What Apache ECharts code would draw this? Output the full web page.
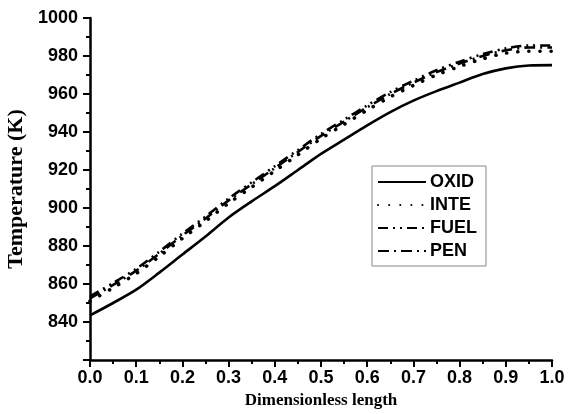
<!DOCTYPE html>
<html>
<head>
<meta charset="utf-8">
<script src="https://cdn.jsdelivr.net/npm/echarts@6/dist/echarts.min.js"></script>
<style>
  html, body { margin: 0; padding: 0; background: #fff; }
  #chart { width: 576px; height: 414px; }
</style>
</head>
<body>
<div id="chart"></div>
<script>
// Dimensionless position along the cell
const positions = [0, 0.05, 0.1, 0.15, 0.2, 0.25, 0.3, 0.35, 0.4, 0.45, 0.5,
                   0.55, 0.6, 0.65, 0.7, 0.75, 0.8, 0.85, 0.9, 0.95, 1.0];

// Temperature profiles (K)
const oxid = [843.5, 850, 857, 866, 875.5, 885, 895, 903.5, 911.5, 920, 928.5,
              936, 943.5, 950.5, 956.5, 961.5, 966, 970.5, 973.5, 975, 975.2];
const inte = [851, 858, 865.5, 874.5, 884, 893, 902.5, 911, 919.5, 928, 936.5,
              944, 951.5, 958.5, 964.5, 970, 974.5, 978.5, 981.5, 982.5, 982.5];
const fuel = [853.5, 860.5, 868, 877, 886.5, 895.5, 905, 913.5, 922, 930.5, 939,
              946.5, 954, 961, 967, 972.5, 977, 981, 984, 985.5, 985.5];
const pen  = [852.5, 859.5, 867, 876, 885.5, 894.5, 904, 912.5, 921, 929.5, 938,
              945.5, 953, 960, 966, 971.5, 976, 980, 983, 984.5, 984.5];

const seriesNames = ['OXID', 'INTE', 'FUEL', 'PEN'];
const seriesValues = [oxid, inte, fuel, pen];
const dashPatterns = ['solid', [0.1, 11], [10, 5, 2, 5, 2, 5], [11, 5, 2, 5]];
const lineWidths = [2.6, 3.6, 2.6, 2.6];

const tickFont = { fontFamily: 'Liberation Sans', fontWeight: 'bold', fontSize: 18, color: '#000' };
const xNameFont = { fontFamily: 'Liberation Serif', fontWeight: 'bold', fontSize: 17, color: '#000' };
const yNameFont = { fontFamily: 'Liberation Serif', fontWeight: 'bold', fontSize: 22, color: '#000' };

const chart = echarts.init(document.getElementById('chart'), null, { renderer: 'canvas' });

chart.setOption({
  animation: false,
  backgroundColor: '#fff',
  grid: { left: 90, right: 24, top: 18, bottom: 54, containLabel: false, outerBoundsMode: 'none' },
  legend: {
    orient: 'vertical',
    left: 372,
    top: 166,
    data: seriesNames,
    backgroundColor: '#fff',
    borderColor: '#888',
    borderWidth: 1,
    padding: [7, 9, 6, 5],
    itemGap: 5,
    itemWidth: 48,
    itemHeight: 14,
    itemStyle: { opacity: 0 },
    textStyle: { fontFamily: 'Liberation Sans', fontWeight: 'bold', fontSize: 18, color: '#000', padding: [0, 0, 0, -1] }
  },
  xAxis: {
    type: 'value',
    min: 0,
    max: 1,
    interval: 0.1,
    name: 'Dimensionless length',
    nameLocation: 'middle',
    nameGap: 32,
    nameTextStyle: xNameFont,
    axisLine: { lineStyle: { color: '#000', width: 2.5 } },
    axisTick: { length: 7, lineStyle: { color: '#000', width: 2 } },
    minorTick: { show: true, splitNumber: 2, length: 4, lineStyle: { color: '#000', width: 2 } },
    splitLine: { show: false },
    axisLabel: Object.assign({ margin: 9, formatter: v => v.toFixed(1) }, tickFont)
  },
  yAxis: {
    type: 'value',
    min: 820,
    max: 1000,
    interval: 20,
    name: 'Temperature (K)',
    nameLocation: 'middle',
    nameGap: 57,
    nameTextStyle: yNameFont,
    axisLine: { show: true, lineStyle: { color: '#000', width: 2.5 } },
    axisTick: { show: true, length: 7, lineStyle: { color: '#000', width: 2 } },
    minorTick: { show: true, splitNumber: 2, length: 4, lineStyle: { color: '#000', width: 2 } },
    splitLine: { show: false },
    axisLabel: Object.assign({ margin: 12, formatter: v => (v === 820 ? '' : String(v)) }, tickFont)
  },
  series: seriesNames.map((name, i) => ({
    name: name,
    type: 'line',
    showSymbol: false,
    symbol: 'none',
    smooth: 0.3,
    data: positions.map((x, j) => [x, seriesValues[i][j]]),
    lineStyle: { color: '#000', width: lineWidths[i], type: dashPatterns[i], cap: i === 1 ? 'round' : 'butt' },
    itemStyle: { color: '#000' },
    z: 4 - i
  }))
});
</script>
</body>
</html>
